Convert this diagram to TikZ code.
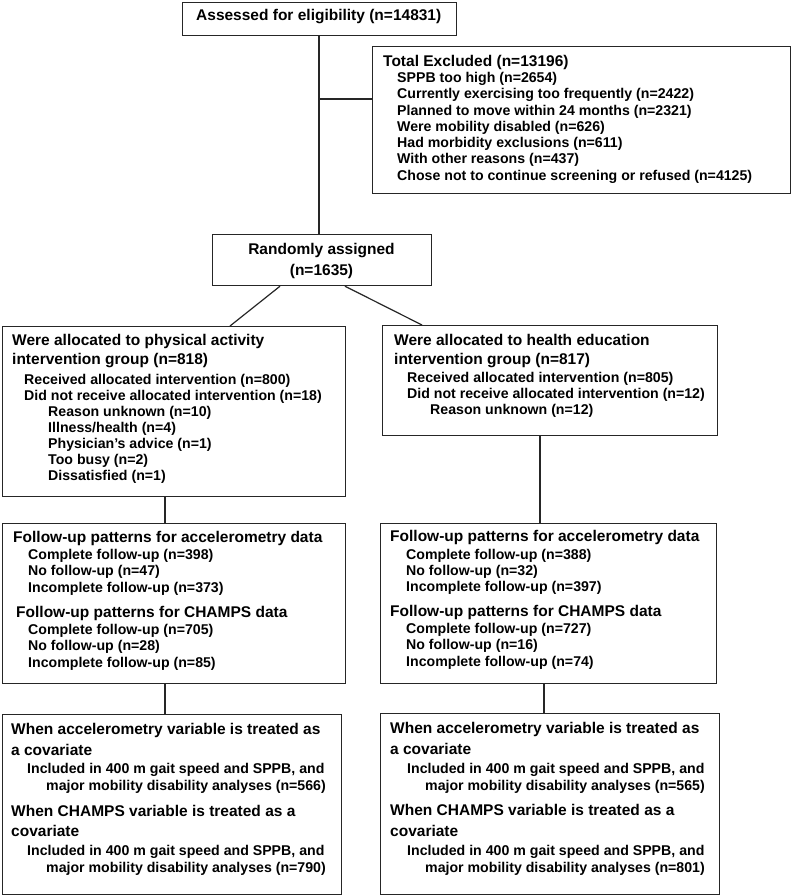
\documentclass[tikz,border=0pt]{standalone}
\usepackage{fontspec}
\setmainfont{Liberation Sans}
\tikzset{
  box/.style={draw=black!85, line width=1.2pt, fill=white, rectangle, inner sep=0pt, anchor=north west},
  ttl/.style={inner sep=0pt, anchor=base west, font=\bfseries\fontsize{15.5}{18}\selectfont},
  ttlc/.style={inner sep=0pt, anchor=base, font=\bfseries\fontsize{15.5}{18}\selectfont},
  itm/.style={inner sep=0pt, anchor=base west, font=\bfseries\fontsize{14.15}{16}\selectfont},
  conn/.style={draw=black!85, line width=1.2pt},
}
\newcommand\mkbox[5]{\node[box,minimum width=#4pt,minimum height=#5pt] (#1) at (#2,#3) {};}
\newcommand\ttlline[4]{\node[ttl] (#1) at (#2,#3) {#4};}
\newcommand\itmline[4]{\node[itm] (#1) at (#2,#3) {#4};}
\begin{document}
\begin{tikzpicture}[x=1pt,y=-1pt]
\useasboundingbox (0,0) rectangle (792,895);
% boxes
\mkbox{top}{182}{2}{274}{33}
\mkbox{excl}{372}{46}{418}{147}
\mkbox{rand}{212}{234}{219}{51}
\mkbox{lal}{2}{326}{343}{170}
\mkbox{ral}{382}{325}{335}{110}
\mkbox{lfu}{2}{523}{343}{160}
\mkbox{rfu}{380}{523}{336}{160}
\mkbox{lbt}{2}{714}{339}{180}
\mkbox{rbt}{380}{713}{339}{181}
% connectors
\draw[conn] ([xshift=137pt]top.south west) -- ([xshift=107pt]rand.north west);
\coordinate (j) at (319,99);
\draw[conn] (j) -- (j -| excl.west);
\draw[conn] ([xshift=68pt]rand.south west) -- ([xshift=228pt]lal.north west);
\draw[conn] ([xshift=133pt]rand.south west) -- ([xshift=40pt]ral.north west);
\draw[conn] ([xshift=163pt]lal.south west) -- ([xshift=163pt]lfu.north west);
\draw[conn] ([xshift=163pt]lfu.south west) -- ([xshift=163pt]lbt.north west);
\draw[conn] ([xshift=158pt]ral.south west) -- ([xshift=160pt]rfu.north west);
\draw[conn] ([xshift=164pt]rfu.south west) -- ([xshift=164pt]rbt.north west);
% top
\ttlline{t0}{196}{20.5}{Assessed for eligibility (n=14831)}
% excluded
\ttlline{e0}{383}{66}{Total Excluded (n=13196)}
\itmline{e1}{397}{82.5}{SPPB too high (n=2654)}
\itmline{e2}{397}{98.8}{Currently exercising too frequently (n=2422)}
\itmline{e3}{397}{115}{Planned to move within 24 months (n=2321)}
\itmline{e4}{397}{131.3}{Were mobility disabled (n=626)}
\itmline{e5}{397}{147.5}{Had morbidity exclusions (n=611)}
\itmline{e6}{397}{163.8}{With other reasons (n=437)}
\itmline{e7}{397}{180}{Chose not to continue screening or refused (n=4125)}
% randomly
\node[ttlc] (r1) at (321.5,254.5) {Randomly assigned};
\node[ttlc] (r2) at (321.5,275.5) {(n=1635)};
% left allocation
\ttlline{la1}{12}{345.7}{Were allocated to physical activity}
\ttlline{la2}{12}{364}{intervention group (n=818)}
\itmline{la3}{24}{384}{Received allocated intervention (n=800)}
\itmline{la4}{24}{400}{Did not receive allocated intervention (n=18)}
\itmline{la5}{48}{416}{Reason unknown (n=10)}
\itmline{la6}{48}{432}{Illness/health (n=4)}
\itmline{la7}{48}{448}{Physician’s advice (n=1)}
\itmline{la8}{48}{464}{Too busy (n=2)}
\itmline{la9}{48}{480}{Dissatisfied (n=1)}
% right allocation
\ttlline{ra1}{394}{345.7}{Were allocated to health education}
\ttlline{ra2}{394}{364}{intervention group (n=817)}
\itmline{ra3}{407}{382.5}{Received allocated intervention (n=805)}
\itmline{ra4}{407}{398.7}{Did not receive allocated intervention (n=12)}
\itmline{ra5}{430}{414.8}{Reason unknown (n=12)}
% left follow-up
\ttlline{lf1}{13}{542.3}{Follow-up patterns for accelerometry data}
\itmline{lf2}{28}{559.3}{Complete follow-up (n=398)}
\itmline{lf3}{28}{575.6}{No follow-up (n=47)}
\itmline{lf4}{28}{592}{Incomplete follow-up (n=373)}
\ttlline{lf5}{16}{617.3}{Follow-up patterns for CHAMPS data}
\itmline{lf6}{28}{634}{Complete follow-up (n=705)}
\itmline{lf7}{28}{650.3}{No follow-up (n=28)}
\itmline{lf8}{28}{667}{Incomplete follow-up (n=85)}
% right follow-up
\ttlline{rf1}{390}{541.7}{Follow-up patterns for accelerometry data}
\itmline{rf2}{406}{559}{Complete follow-up (n=388)}
\itmline{rf3}{406}{575.3}{No follow-up (n=32)}
\itmline{rf4}{406}{591.7}{Incomplete follow-up (n=397)}
\ttlline{rf5}{390}{616.7}{Follow-up patterns for CHAMPS data}
\itmline{rf6}{406}{633.3}{Complete follow-up (n=727)}
\itmline{rf7}{406}{649.6}{No follow-up (n=16)}
\itmline{rf8}{406}{666.5}{Incomplete follow-up (n=74)}
% left bottom
\ttlline{lb1}{11}{734}{When accelerometry variable is treated as}
\ttlline{lb2}{11}{755}{a covariate}
\itmline{lb3}{27}{773.3}{Included in 400 m gait speed and SPPB, and}
\itmline{lb4}{46}{790}{major mobility disability analyses (n=566)}
\ttlline{lb5}{11}{816}{When CHAMPS variable is treated as a}
\ttlline{lb6}{11}{836.7}{covariate}
\itmline{lb7}{27}{855.7}{Included in 400 m gait speed and SPPB, and}
\itmline{lb8}{46}{872.3}{major mobility disability analyses (n=790)}
% right bottom
\ttlline{rb1}{390}{733.5}{When accelerometry variable is treated as}
\ttlline{rb2}{390}{754.5}{a covariate}
\itmline{rb3}{407}{773.3}{Included in 400 m gait speed and SPPB, and}
\itmline{rb4}{425}{790.7}{major mobility disability analyses (n=565)}
\ttlline{rb5}{390}{815.5}{When CHAMPS variable is treated as a}
\ttlline{rb6}{390}{836.3}{covariate}
\itmline{rb7}{407}{855.3}{Included in 400 m gait speed and SPPB, and}
\itmline{rb8}{425}{872.3}{major mobility disability analyses (n=801)}
\end{tikzpicture}
\end{document}
